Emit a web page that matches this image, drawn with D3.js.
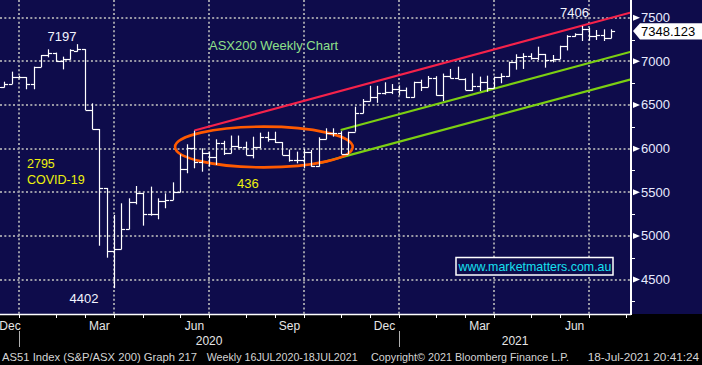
<!DOCTYPE html>
<html><head><meta charset="utf-8">
<script src="https://cdn.jsdelivr.net/npm/d3@7"></script>
<style>
html,body{margin:0;padding:0;background:#000;}
svg{display:block;}
</style></head><body>
<svg id="c" width="702" height="365"></svg>
<script>
// ---------- DATA (weekly bars, first bar = week ending 6 Dec 2019) ----------
const firstWeek = "2019-12-06";
const opens  = [6720,6703,6741,6817,6817,6741,6939,7073,7099,7008,7024,7122,7138,6443,6222,5546,4827,4847,5076,5393,5488,5251,5251,5400,5412,5500,5763,6011,5850,5947,5908,6061,5954,6030,6023,5927,6020,6130,6115,6073,5927,5870,5875,5965,5801,6107,6176,6176,5939,6194,6405,6546,6597,6634,6646,6683,6668,6587,6760,6710,6806,6615,6830,6808,6798,6672,6718,6760,6698,6825,6836,6989,7054,7066,7042,7081,7015,7027,7179,7294,7310,7371,7294,7302,7264];
const highs  = [6760,6767,6882,6835,6820,6939,7073,7138,7100,7054,7138,7197,7140,6519,6225,5550,5240,5374,5431,5572,5496,5565,5431,5488,5614,5935,6050,6206,6004,5966,6107,6090,6150,6150,6080,6137,6183,6194,6194,6075,5990,5966,6000,5985,6130,6233,6233,6200,6194,6481,6568,6720,6720,6760,6740,6725,6700,6767,6790,6832,6830,6860,6913,6939,6806,6863,6825,6836,6825,6863,6996,7081,7093,7093,7168,7085,7073,7179,7300,7321,7406,7385,7359,7367,7367];
const lows   = [6660,6700,6741,6805,6680,6680,6935,7046,6996,6908,7020,7111,6443,6222,4888,4751,4402,4847,5076,5362,5118,5232,5191,5317,5412,5500,5718,5775,5736,5793,5813,5927,5947,6004,5927,5889,6004,6080,6065,5927,5851,5832,5775,5793,5793,6107,6137,5939,5939,6194,6405,6540,6525,6620,6625,6610,6580,6584,6660,6705,6607,6545,6806,6798,6672,6660,6660,6652,6691,6749,6824,6905,6913,7020,7015,6928,6989,7027,7125,7282,7233,7237,7245,7233,7264];
const closes = [6703,6741,6817,6817,6741,6939,7073,7099,7008,7024,7130,7138,6443,6222,5546,4827,4847,5076,5393,5488,5251,5251,5400,5412,5500,5763,6011,5850,5947,5908,6061,5954,6030,6023,5927,6020,6130,6115,6073,5927,5870,5875,5965,5801,6107,6176,6176,5939,6194,6405,6546,6597,6634,6646,6683,6668,6587,6760,6710,6806,6615,6830,6808,6798,6672,6718,6760,6698,6825,6836,6989,7054,7066,7042,7081,7015,7027,7179,7294,7310,7371,7294,7302,7264,7348.123];
const priceTicks = [4500,5000,5500,6000,6500,7000,7500];
const minorTicks = [4250,4750,5250,5750,6250,6750,7250];
const yearLabels = [2020, 2021];
const lastPrice = 7348.123;
const callouts = [
  {date:"2020-02-21", value:7197, text:"7197"},
  {date:"2021-06-18", value:7406, text:"7406"},
  {date:"2020-03-27", value:4402, text:"4402"}
];
const redChannel   = [["2020-06-12", 6208], ["2021-08-04", 7560]];
const greenUpper   = [["2020-10-30", 6214], ["2021-08-04", 7110]];
const greenLower   = [["2020-10-09", 5832], ["2021-08-04", 6794]];
const rangeEllipse = {date:"2020-08-17T12:00:00Z", value:6019, halfWeeks:12.15, halfPoints:233};
const footer = ["AS51 Index (S&P/ASX 200) Graph 217", "Weekly 16JUL2020-18JUL2021", "Copyright\u00A9 2021 Bloomberg Finance L.P.", "18-Jul-2021 20:41:24"];

// ---------- SETUP ----------
const WEEK = 7*864e5;
const d0 = new Date(firstWeek + "T00:00:00Z").getTime();
const bars = closes.map((c,i)=>({date:new Date(d0 + i*WEEK), o:opens[i], h:highs[i], l:lows[i], c}));
const PW = 631, PH = 314;
const FONT = "'Liberation Sans', Arial, sans-serif";
const x = d3.scaleUtc().domain([new Date(d0 + 0.4*WEEK), new Date(d0 + 86.72*WEEK)]).range([0, PW]);
const y = d3.scaleLinear().domain([4500, 7500]).range([279.6, 17.7]);

const svg = d3.select("#c");
svg.append("rect").attr("width",702).attr("height",365).attr("fill","#000");
svg.append("rect").attr("width",702).attr("height",PH).attr("fill","#0e0c4b");

svg.append("defs").append("clipPath").attr("id","plot").append("rect").attr("width",PW).attr("height",PH);

// ---------- TIME TICKS ----------
const fridays = d3.utcFriday.range(new Date(Date.UTC(2019,9,1)), new Date(Date.UTC(2022,1,28)));
const monthEnds = fridays.filter((d,i)=> i<fridays.length-1 && fridays[i+1].getUTCMonth() !== d.getUTCMonth());
const quarterEnds = monthEnds.filter(d => d.getUTCMonth() % 3 === 2);
const yearEnds = monthEnds.filter(d => d.getUTCMonth() === 11);
const fmtMonth = d3.utcFormat("%b");

const grid = svg.append("g").attr("clip-path","url(#plot)")
  .attr("stroke","#9a9aa6").attr("stroke-width",2).attr("stroke-dasharray","2,2.33");
grid.selectAll("line.h").data(priceTicks).join("line")
  .attr("x1",0).attr("x2",PW).attr("y1",d=>Math.round(y(d))).attr("y2",d=>Math.round(y(d)));
grid.selectAll("line.v").data(quarterEnds.filter(d=>x(d)>=0 && x(d)<=PW)).join("line")
  .attr("x1",d=>Math.round(x(d))).attr("x2",d=>Math.round(x(d))).attr("y1",0).attr("y2",PH);

// ---------- ANNOTATION SHAPES ----------
const ann = svg.append("g").attr("clip-path","url(#plot)").attr("fill","none");
const line = d3.line().x(d=>x(new Date(d[0]+"T00:00:00Z"))).y(d=>y(d[1]));
ann.append("path").attr("d", line(redChannel)).attr("stroke","#f5224a").attr("stroke-width",2.2);
ann.append("path").attr("d", line(greenUpper)).attr("stroke","#7ccf12").attr("stroke-width",2.2);
ann.append("path").attr("d", line(greenLower)).attr("stroke","#7ccf12").attr("stroke-width",2.2);

// ---------- OHLC BARS ----------
const tick = 3.6;
const bg = svg.append("g").attr("clip-path","url(#plot)").attr("stroke","#ffffff").attr("stroke-width",1.2);
const bx = d => Math.round(x(d.date)) + 0.5;
bg.selectAll("line.hl").data(bars).join("line")
  .attr("x1",bx).attr("x2",bx).attr("y1",d=>y(d.h)).attr("y2",d=>y(d.l));
bg.selectAll("line.o").data(bars).join("line")
  .attr("x1",d=>bx(d)-tick).attr("x2",bx).attr("y1",d=>Math.round(y(d.o))+0.5).attr("y2",d=>Math.round(y(d.o))+0.5);
bg.selectAll("line.c").data(bars).join("line")
  .attr("x1",bx).attr("x2",d=>bx(d)+tick).attr("y1",d=>Math.round(y(d.c))+0.5).attr("y2",d=>Math.round(y(d.c))+0.5);

// ellipse over the consolidation range
const ec = new Date(rangeEllipse.date);
const ecx = x(ec), ecy = y(rangeEllipse.value);
ann.append("ellipse").attr("cx",ecx).attr("cy",ecy)
  .attr("rx", x(new Date(ec.getTime() + rangeEllipse.halfWeeks*WEEK)) - ecx)
  .attr("ry", y(rangeEllipse.value - rangeEllipse.halfPoints) - ecy)
  .attr("stroke","#ff5a00").attr("stroke-width",2.6);

// ---------- AXES ----------
svg.append("line").attr("x1",PW).attr("x2",PW).attr("y1",0).attr("y2",PH+1).attr("stroke","#fff").attr("stroke-width",2);
svg.append("line").attr("x1",0).attr("x2",PW).attr("y1",PH+0.5).attr("y2",PH+0.5).attr("stroke","#fff").attr("stroke-width",1.5);

const ya = svg.append("g");
ya.selectAll("path.tri").data(priceTicks).join("path")
  .attr("d", d => { const yy = y(d); return `M633,${yy-3}L640,${yy}L633,${yy+3}Z`; })
  .attr("fill","#fff");
ya.selectAll("line.mn").data(minorTicks).join("line")
  .attr("x1",PW).attr("x2",PW+4).attr("y1",d=>Math.round(y(d))+0.5).attr("y2",d=>Math.round(y(d))+0.5)
  .attr("stroke","#fff").attr("stroke-width",1);
ya.selectAll("text").data(priceTicks).join("text")
  .attr("x",641).attr("y",d=>y(d)+4.4).text(d=>d)
  .attr("font-family",FONT).attr("font-size",13).attr("fill","#e8ebff");

// last price tag
const ly = y(lastPrice);
svg.append("path").attr("d",`M633,${ly}L640,${ly-7.8}L702,${ly-7.8}L702,${ly+8.5}L640,${ly+8.5}Z`).attr("fill","#fff");
svg.append("text").attr("x",641).attr("y",ly+5).text(d3.format(".3f")(lastPrice))
  .attr("font-family",FONT).attr("font-size",13).attr("fill","#000");

// x ticks & labels
const xa = svg.append("g");
const visMonth = monthEnds.filter(d=>x(d)>=0 && x(d)<=PW);
xa.selectAll("line.t").data(visMonth).join("line")
  .attr("x1",d=>Math.round(x(d))+0.5).attr("x2",d=>Math.round(x(d))+0.5).attr("y1",PH).attr("y2",PH+4)
  .attr("stroke","#fff").attr("stroke-width",1);
const qLabels = quarterEnds.map(d => {
  const idx = monthEnds.findIndex(m => +m === +d);
  const prev = monthEnds[idx-1];
  return {text: fmtMonth(d), cx: (x(prev)+x(d))/2};
}).filter(l => l.cx > -10 && l.cx < PW);
xa.selectAll("text.m").data(qLabels).join("text")
  .attr("x", d => Math.max(d.cx, 10)).attr("y", 330).attr("text-anchor","middle")
  .text(d=>d.text).attr("font-family",FONT).attr("font-size",12).attr("fill","#e6e6e6");
xa.selectAll("line.yr").data(yearEnds.filter(d=>x(d)>=0 && x(d)<=PW)).join("line")
  .attr("x1",d=>Math.round(x(d))+0.5).attr("x2",d=>Math.round(x(d))+0.5).attr("y1",331).attr("y2",347)
  .attr("stroke","#b0b0b0").attr("stroke-width",1);
xa.selectAll("text.y").data(yearLabels).join("text")
  .attr("x", yr => {
    const s = yearEnds.find(d=>d.getUTCFullYear()===yr-1);
    const e = yearEnds.find(d=>d.getUTCFullYear()===yr);
    const xs = s ? Math.max(0, x(s)) : 0;
    const xe = e ? Math.min(PW, x(e)) : PW;
    return (xs + xe)/2;
  })
  .attr("y",345).attr("text-anchor","middle").text(d=>d)
  .attr("font-family",FONT).attr("font-size",12).attr("fill","#e6e6e6");

// footer
const fpos = [[2,195],[206.7,151],[371,198],[587.7,111.5]];
svg.selectAll("text.f").data(footer).join("text")
  .attr("x",(d,i)=>fpos[i][0]).attr("y",361).attr("textLength",(d,i)=>fpos[i][1]).attr("lengthAdjust","spacingAndGlyphs")
  .text(d=>d).attr("font-family",FONT).attr("font-size",11.5).attr("fill","#d4d4d4");

// ---------- TEXT ANNOTATIONS ----------
const offs = [[-15.5,-3],[-7.4,-9.4],[-30,15]];
svg.selectAll("text.co").data(callouts).join("text")
  .attr("x",(d,i)=>x(new Date(d.date+"T00:00:00Z"))+offs[i][0])
  .attr("y",(d,i)=>y(d.value)+offs[i][1])
  .attr("text-anchor","middle").text(d=>d.text)
  .attr("font-family",FONT).attr("font-size",13).attr("fill","#f2f5ff");

svg.append("text").attr("x",209).attr("y",50).text("ASX200 Weekly Chart")
  .attr("font-family",FONT).attr("font-size",13).attr("fill","#8ee08a");
svg.append("text").attr("x",27).attr("y",168).text("2795")
  .attr("font-family",FONT).attr("font-size",12.5).attr("fill","#eef20c");
svg.append("text").attr("x",27).attr("y",184).text("COVID-19")
  .attr("font-family",FONT).attr("font-size",12.5).attr("fill","#eef20c");
svg.append("text").attr("x",237).attr("y",188).text("436")
  .attr("font-family",FONT).attr("font-size",13).attr("fill","#eef20c");

svg.append("rect").attr("x",456).attr("y",257.5).attr("width",157).attr("height",17.5)
  .attr("fill","#0e0c4b").attr("stroke","#fff").attr("stroke-width",1.5);
svg.append("text").attr("x",458.5).attr("y",271).text("www.marketmatters.com.au")
  .attr("font-family",FONT).attr("font-size",12.4).attr("fill","#16e0f0");
</script>
</body></html>
